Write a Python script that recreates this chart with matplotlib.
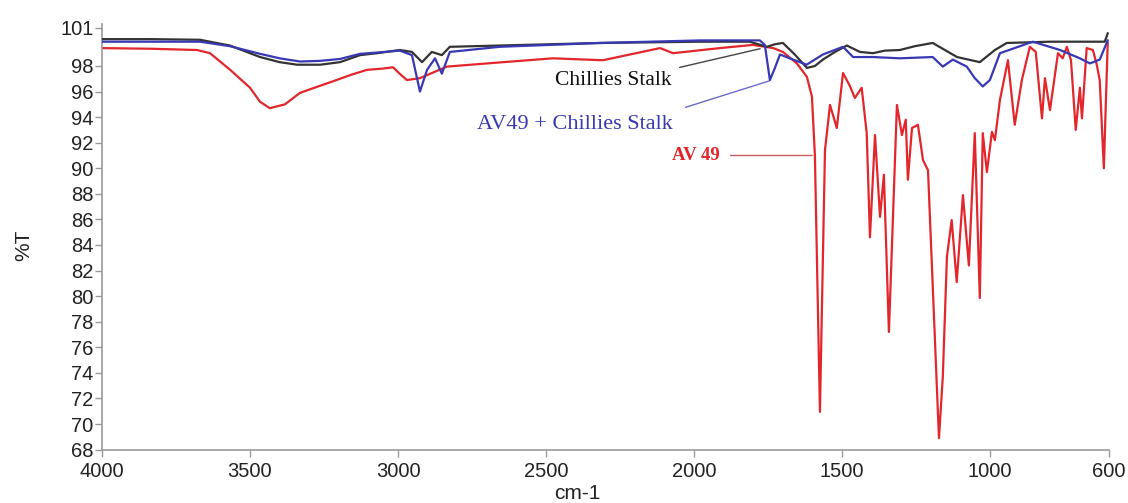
import matplotlib
matplotlib.use("Agg")
import matplotlib.pyplot as plt

# FTIR spectra: wavenumber (cm-1) and transmittance (%T)
chillies_wn = [4000, 3838, 3669, 3568, 3466, 3400, 3341, 3263, 3196, 3128, 3071, 2994,
               2953, 2919, 2886, 2852, 2825, 2656, 2318, 1980, 1812, 1754, 1727, 1700,
               1660, 1619, 1592, 1565, 1524, 1484, 1440, 1396, 1356, 1305, 1254, 1194,
               1153, 1112, 1035, 984, 944, 798, 613, 603]
chillies_t = [100.1, 100.1, 100.05, 99.6, 98.7, 98.3, 98.1, 98.1, 98.3, 98.85, 99.0, 99.25,
              99.1, 98.3, 99.1, 98.85, 99.5, 99.6, 99.8, 99.9, 99.9, 99.5, 99.7, 99.8,
              98.9, 97.85, 98.0, 98.5, 99.1, 99.6, 99.1, 99.0, 99.2, 99.25, 99.55, 99.8,
              99.25, 98.7, 98.3, 99.25, 99.8, 99.9, 99.9, 100.55]

mix_wn = [4000, 3669, 3568, 3466, 3400, 3331, 3263, 3196, 3128, 3071, 2994, 2953,
          2926, 2902, 2875, 2852, 2825, 2656, 2318, 1980, 1778, 1761, 1744, 1727,
          1710, 1677, 1620, 1565, 1497, 1463, 1396, 1305, 1194, 1160, 1126, 1079,
          1052, 1025, 1001, 967, 856, 764, 697, 663, 630, 603]
mix_t = [99.9, 99.9, 99.55, 98.95, 98.6, 98.35, 98.4, 98.55, 98.95, 99.05, 99.2, 98.85,
         96.0, 97.7, 98.6, 97.4, 99.1, 99.5, 99.8, 100.0, 100.0, 99.65, 96.9, 97.85,
         98.9, 98.6, 98.1, 98.9, 99.5, 98.7, 98.7, 98.6, 98.7, 97.95, 98.5, 97.95,
         97.05, 96.4, 96.9, 99.0, 99.9, 99.25, 98.6, 98.2, 98.5, 100.0]

av49_wn = [4000, 3838, 3679, 3635, 3567, 3500, 3466, 3433, 3382, 3331, 3270, 3220,
           3160, 3105, 3050, 3017, 2990, 2970, 2926, 2835, 2700, 2477, 2308, 2115,
           2071, 1913, 1801, 1733, 1700, 1653, 1619, 1602, 1592, 1575, 1558, 1541,
           1518, 1497, 1474, 1457, 1434, 1417, 1406, 1389, 1372, 1359, 1342, 1315,
           1298, 1285, 1278, 1264, 1244, 1227, 1210, 1173, 1160, 1146, 1130, 1113,
           1092, 1072, 1052, 1035, 1025, 1011, 994, 984, 967, 940, 917, 893,
           866, 846, 825, 815, 798, 771, 755, 741, 727, 711, 697, 690,
           674, 653, 640, 630, 616, 609, 603]
av49_t = [99.4, 99.35, 99.25, 99.0, 97.7, 96.3, 95.2, 94.7, 95.0, 95.9, 96.4, 96.8,
          97.3, 97.7, 97.8, 97.9, 97.3, 96.9, 97.05, 97.95, 98.2, 98.6, 98.45, 99.4,
          99.0, 99.4, 99.65, 99.4, 99.1, 98.2, 97.15, 95.6, 91.0, 70.95, 91.4, 94.95,
          93.15, 97.45, 96.45, 95.5, 96.3, 92.75, 84.6, 92.6, 86.2, 89.5, 77.2, 94.95,
          92.6, 93.8, 89.1, 93.15, 93.4, 90.65, 89.85, 68.9, 73.7, 83.1, 85.95, 81.1,
          87.9, 82.4, 92.75, 79.85, 92.75, 89.7, 92.85, 92.2, 95.35, 98.45, 93.4, 96.9,
          99.5, 99.1, 93.9, 97.05, 94.55, 99.0, 98.6, 99.5, 98.45, 93.0, 96.3, 93.9,
          99.4, 99.25, 98.1, 96.9, 90.0, 95.35, 99.8]

y_ticks = list(range(68, 100, 2)) + [101]
x_ticks = [4000, 3500, 3000, 2500, 2000, 1500, 1000, 600]

RED = "#e3262b"
BLUE = "#3838b4"
BLACK = "#333333"
AXIS_GRAY = "#9a9a9a"
TEXT = "#222222"

fig = plt.figure(figsize=(11.28, 5.03), dpi=100)
ax = fig.add_axes([0.0904, 0.1062, 0.8924, 0.8465])

ax.plot(av49_wn, av49_t, color=RED, lw=1.6, zorder=2)
ax.plot(chillies_wn, chillies_t, color=BLACK, lw=1.6, zorder=3)
ax.plot(mix_wn, mix_t, color=BLUE, lw=1.6, zorder=4)

ax.set_xlim(4000, 600)
ax.set_ylim(68, 101.3)
ax.set_xticks(x_ticks)
ax.set_yticks(y_ticks)

for side in ("top", "right"):
    ax.spines[side].set_visible(False)
for side in ("left", "bottom"):
    ax.spines[side].set_color(AXIS_GRAY)
    ax.spines[side].set_linewidth(1.2)

ax.tick_params(axis="both", colors=AXIS_GRAY, labelcolor=TEXT,
               length=5, width=1, labelsize=14.5)
ax.tick_params(axis="y", pad=1)
ax.tick_params(axis="x", pad=4)
for lbl in ax.get_xticklabels() + ax.get_yticklabels():
    lbl.set_family("Liberation Sans")

ax.set_xlabel("cm-1", fontsize=15, family="Liberation Sans", color=TEXT)
ax.set_ylabel("%T", fontsize=15, family="Liberation Sans", color=TEXT)
ax.xaxis.set_label_coords(0.472, -0.082)
ax.yaxis.set_label_coords(-0.068, 0.48)

serif = "Liberation Serif"

# Curve labels with leader lines
ax.annotate("", xy=(1768, 99.4), xytext=(2058, 97.84),
            arrowprops=dict(arrowstyle="-", color="#444444", lw=1.0))
ax.text(2274, 96.9, "Chillies Stalk", family=serif, fontsize=15.5,
        color="#111111", ha="center", va="center")

ax.annotate("", xy=(1737, 96.9), xytext=(2038, 94.7),
            arrowprops=dict(arrowstyle="-", color="#6a6ac8", lw=1.0))
ax.text(2402, 93.4, "AV49 + Chillies Stalk", family=serif, fontsize=16,
        color=BLUE, ha="center", va="center")

ax.annotate("", xy=(1592, 91.0), xytext=(1886, 91.0),
            arrowprops=dict(arrowstyle="-", color="#cc5a5a", lw=1.0))
ax.text(1913, 91.0, "AV 49", family=serif, fontsize=13.5, fontweight="bold",
        color=RED, ha="right", va="center")

fig.savefig("out.png", dpi=100)
